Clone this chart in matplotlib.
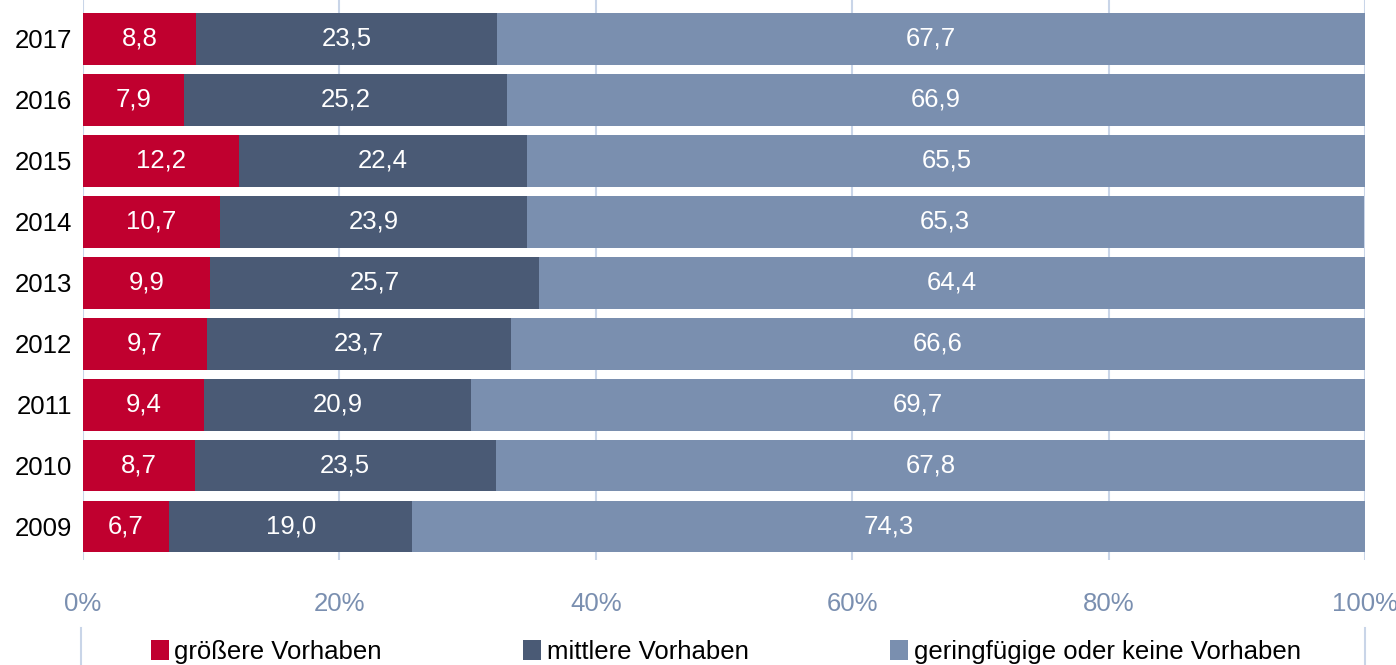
import numpy as np
import matplotlib
matplotlib.use("Agg")
import matplotlib.pyplot as plt
from matplotlib.lines import Line2D

plt.rcParams['font.family'] = ['Liberation Sans', 'DejaVu Sans']

# Data
years = ["2009", "2010", "2011", "2012", "2013", "2014", "2015", "2016", "2017"]
groesser = [6.7, 8.7, 9.4, 9.7, 9.9, 10.7, 12.2, 7.9, 8.8]
mittel = [19.0, 23.5, 20.9, 23.7, 25.7, 23.9, 22.4, 25.2, 23.5]
gering = [74.3, 67.8, 69.7, 66.6, 64.4, 65.3, 65.5, 66.9, 67.7]
series_names = ["größere Vorhaben", "mittlere Vorhaben", "geringfügige oder keine Vorhaben"]
colors = ["#C0002F", "#4A5A75", "#7A8FAF"]
xticks = [0, 20, 40, 60, 80, 100]

grid_col = "#C9D5E8"
tick_col = "#7A8FB0"
fs = 18.5

fig = plt.figure(figsize=(13.96, 6.65), dpi=100)
ax = fig.add_axes([83 / 1396, 1 - 560 / 665, (1365 - 83) / 1396, 560 / 665])

y = np.arange(len(years))
left = np.zeros(len(years))
for vals, name, col in zip([groesser, mittel, gering], series_names, colors):
    vals = np.array(vals)
    ax.barh(y, vals, left=left, height=0.85, color=col, label=name, zorder=2)
    for yi, l, v in zip(y, left, vals):
        ax.text(l + v / 2, yi, f"{v:.1f}".replace(".", ","), ha="center", va="center",
                color="white", fontsize=fs, zorder=3)
    left = left + vals

ax.set_xlim(0, 100)
ax.set_ylim(-0.55, len(years) - 1 + 0.64)
ax.set_xticks(xticks)
ax.set_xticklabels([f"{t}%" for t in xticks], color=tick_col, fontsize=fs)
ax.set_yticks(y)
ax.set_yticklabels(years, fontsize=fs, color="black")
ax.tick_params(axis="both", length=0)
ax.tick_params(axis="x", pad=23)
ax.tick_params(axis="y", pad=8)
for s in ax.spines.values():
    s.set_visible(False)
ax.grid(axis="x", color=grid_col, linewidth=1.5, zorder=0)
ax.set_axisbelow(True)

# legend
handles, labels = ax.get_legend_handles_labels()
leg = fig.legend(handles, labels, loc="center", ncol=3, frameon=False, fontsize=fs,
                 bbox_to_anchor=(0.52, 13 / 665), handlelength=0.7, handleheight=0.8,
                 handletextpad=0.23, columnspacing=5.5)
for x in [81, 1365]:
    fig.add_artist(Line2D([x / 1396, x / 1396], [0, 37 / 665], color=grid_col, linewidth=1.5))

fig.savefig("out.png", dpi=100)
